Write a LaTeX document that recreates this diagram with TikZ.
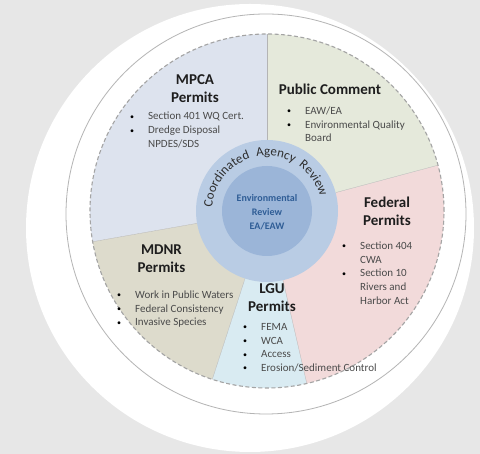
\documentclass[tikz,border=0pt]{standalone}
\usepackage{fontspec}
\setmainfont{Carlito}
\usetikzlibrary{decorations.text}

\definecolor{bgC}{HTML}{E7E7E7}
\definecolor{lineC}{HTML}{B4B4B4}
\definecolor{dashC}{HTML}{A4A4A4}
\definecolor{mpcaC}{HTML}{DDE3EE}
\definecolor{publicC}{HTML}{E5E9DB}
\definecolor{fedC}{HTML}{F2DADA}
\definecolor{lguC}{HTML}{D9EBF2}
\definecolor{mdnrC}{HTML}{DDDBCC}
\definecolor{ringC}{HTML}{B9CCE4}
\definecolor{coreC}{HTML}{9BB5D8}
\definecolor{titleC}{HTML}{1E1E1E}
\definecolor{itemC}{HTML}{4A4A4A}
\definecolor{coreT}{HTML}{2F5D96}
\definecolor{ringT}{HTML}{2E2E2E}

\tikzset{
	title/.style={font=\fontsize{15}{18}\selectfont\bfseries, text=titleC, align=center, inner sep=0pt},
	items/.style={font=\fontsize{11}{13.7}\selectfont, text=itemC, anchor=base west, inner sep=0pt},
	core/.style={font=\fontsize{10}{14}\selectfont\bfseries, text=coreT, align=center, inner sep=0pt},
	border/.style={lineC, line width=0.3pt}
}
\newcommand\itm{\makebox[18pt][l]{\raisebox{0.6pt}{\textcolor{black}{\fontsize{8}{8}\selectfont\textbullet}}}}
\newcommand\gap{\hspace*{18pt}}
\newcommand\itemlist[1]{\begin{tabular}[t]{@{}l@{}}#1\end{tabular}}

\begin{document}
\begin{tikzpicture}[x=1pt,y=1pt]
	\useasboundingbox (0,0) rectangle (480,454);
	\fill[bgC] (0,0) rectangle (480,454);
	\fill[white] (250,226) circle (224);
	\draw[lineC, line width=0.8pt] (266,240) circle (200);

	% sectors
	\coordinate (c) at (267,243);
	\fill[mpcaC] (c) -- ++(90:177) arc (90:190:177) -- cycle;
	\fill[mdnrC] (c) -- ++(190:177) arc (190:252:177) -- cycle;
	\fill[lguC] (c) -- ++(252:177) arc (252:283:177) -- cycle;
	\fill[fedC] (c) -- ++(283:177) arc (283:375:177) -- cycle;
	\fill[publicC] (c) -- ++(15:177) arc (15:90:177) -- cycle;
	\foreach \a in {90,190,252,283,15}
		\draw[border] ([shift={(\a:71)}]c) -- ([shift={(\a:177)}]c);
	\draw[dashC, line width=1.1pt, dash pattern=on 4pt off 2.5pt] (c) circle (177);

	% centre
	\fill[ringC] (c) circle (71);
	\fill[coreC] (c) circle (45);
	\foreach \w/\m in {Coordinated/142, Agency/81, Review/35}
		\path[decorate, decoration={text along path, text align=center,
			text={|\fontsize{13}{15}\selectfont\color{ringT}|\w}}]
			([shift={(\m+45:55)}]c) arc (\m+45:\m-45:55);
	\node[core] (coreText) at ([yshift=-1]c) {Environmental\\Review\\EA/EAW};

	% labels
	\node[title] (mpcaT) at (195,365) {MPCA\\Permits};
	\node[items] (mpcaL) at (130,334) {\itemlist{\itm Section 401 WQ Cert.\\ \itm Dredge Disposal\\ \gap NPDES/SDS}};

	\node[title] (publicT) at (330,365) {Public Comment};
	\node[items] (publicL) at (287,339.5) {\itemlist{\itm EAW/EA\\ \itm Environmental Quality\\ \gap Board}};

	\node[title] (fedT) at (387,243) {Federal\\Permits};
	\node[items] (fedL) at (342,204.5) {\itemlist{\itm Section 404\\ \gap CWA\\ \itm Section 10\\ \gap Rivers and\\ \gap Harbor Act}};

	\node[title] (mdnrT) at (161.5,195) {MDNR\\Permits};
	\node[items] (mdnrL) at (117,155.5) {\itemlist{\itm Work in Public Waters\\ \itm Federal Consistency\\ \itm Invasive Species}};

	\node[title] (lguT) at (272,156) {LGU\\Permits};
	\node[items] (lguL) at (243,123.5) {\itemlist{\itm FEMA\\ \itm WCA\\ \itm Access\\ \itm Erosion/Sediment Control}};
\end{tikzpicture}
\end{document}
